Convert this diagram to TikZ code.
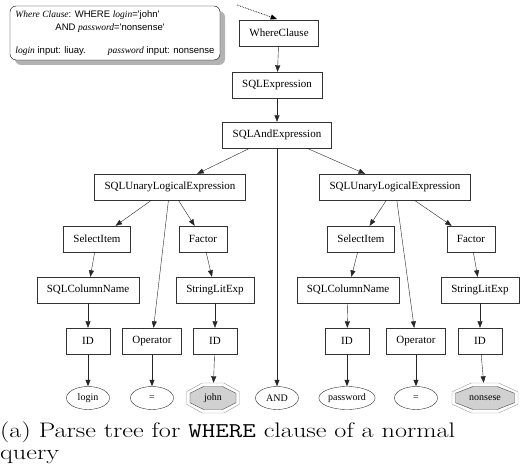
\documentclass[tikz,border=0pt]{standalone}
\usepackage{fontspec}
\usepackage{graphicx}
\usepackage{tikz}
\usetikzlibrary{shapes.geometric,arrows.meta,shadows,calc}
\newfontfamily\gvserif{Liberation Serif}
\newfontfamily\gvsans{Liberation Sans}
\newcommand{\ti}[1]{{\gvserif\itshape #1}}

\begin{document}
\begin{tikzpicture}[x=1pt,y=-1pt,auto]
  \useasboundingbox (0,0) rectangle (522,470);
  % the query note
  \node (note) at (115,33) [draw, rounded corners=6pt, fill=white, minimum width=210pt, minimum height=54pt, inner sep=3pt, align=left, font=\gvsans\fontsize{9.5}{13}\selectfont, drop shadow={shadow xshift=5pt, shadow yshift=-5pt, fill=gray!60, opacity=1}]
    {\ti{Where Clause}: WHERE \ti{login}=\textquotesingle john\textquotesingle\\
     \hspace*{40pt}AND \ti{password}=\textquotesingle nonsense\textquotesingle\\[10pt]
     \ti{login} input: liuay.\hspace{22pt}\ti{password} input: nonsense};
  \coordinate (P) at (237,5);
  \begin{scope}[every node/.style={rectangle,draw=black!80,font=\gvserif\fontsize{11}{13}\selectfont,minimum height=26pt,minimum width=44pt,inner xsep=10pt}]
    \node (W) at (279,33) {WhereClause};
    \node (E) at (277,85) {SQLExpression};
    \node (A) at (277,135) {SQLAndExpression};
    \node (U1) at (170,187) {SQLUnaryLogicalExpression};
    \node (U2) at (395,187) {SQLUnaryLogicalExpression};
    \node (S1) at (97,239) {SelectItem};
    \node (F1) at (203,239) {Factor};
    \node (S2) at (361,239) {SelectItem};
    \node (F2) at (471,239) {Factor};
    \node (C1) at (88,290) {SQLColumnName};
    \node (L1) at (215,290) {StringLitExp};
    \node (C2) at (348,290) {SQLColumnName};
    \node (L2) at (480,290) {StringLitExp};
    \node (I1) at (88,341) {ID};
    \node (O1) at (152,341) {Operator};
    \node (D1) at (215,341) {ID};
    \node (I2) at (347,341) {ID};
    \node (O2) at (416,341) {Operator};
    \node (D2) at (480,341) {ID};
  \end{scope}
  \begin{scope}[every node/.style={ellipse,draw=black!80,font=\gvserif\fontsize{10}{12}\selectfont,minimum width=43pt,minimum height=23pt,inner sep=1pt}]
    \node (login) at (88,398) {login};
    \node (eq1) at (152,398) {=};
    \node (and) at (277,398) {AND};
    \node (pw) at (347,398) {password};
    \node (eq2) at (416,398) {=};
  \end{scope}
  % string values in double octagons
  \coordinate (jc) at (213,398);
  \coordinate (nc) at (485,398);
  \foreach \c/\rx/\ri in {jc/28.7/24.9,nc/35.7/31.9}{
    \draw[black!40] ($(\c)+(22.5:\rx pt and 16.2pt)$) \foreach \a in {67.5,112.5,...,337.5}{ -- ($(\c)+(\a:\rx pt and 16.2pt)$)} -- cycle;
    \draw[black!75,fill=black!18] ($(\c)+(22.5:\ri pt and 12.4pt)$) \foreach \a in {67.5,112.5,...,337.5}{ -- ($(\c)+(\a:\ri pt and 12.4pt)$)} -- cycle;
  }
  \begin{scope}[every node/.style={rectangle,font=\gvserif\fontsize{10}{12}\selectfont,minimum width=53pt,minimum height=30pt}]
    \node (john) at (jc) {john};
    \node (nons) at (nc) {nonsese};
  \end{scope}
  \begin{scope}[every edge/.style={draw=black!85,-{Triangle[length=6.5pt,width=5pt]}}]
    \draw (W) edge (E);
    \draw (E) edge (A);
    \draw (A) edge (U1);
    \draw (A) edge (and);
    \draw (A) edge (U2);
    \draw (U1) edge (S1);
    \draw (U1) edge (O1);
    \draw (U1) edge (F1);
    \draw (S1) edge (C1);
    \draw (C1) edge (I1);
    \draw (I1) edge (login);
    \draw (O1) edge (eq1);
    \draw (F1) edge (L1);
    \draw (L1) edge (D1);
    \draw (D1) edge (john);
    \draw (U2) edge (S2);
    \draw (U2) edge (O2);
    \draw (U2) edge (F2);
    \draw (S2) edge (C2);
    \draw (C2) edge (I2);
    \draw (I2) edge (pw);
    \draw (O2) edge (eq2);
    \draw (F2) edge (L2);
    \draw (L2) edge (D2);
    \draw (D2) edge (nons);
    \draw (P) edge[draw=black,line width=0.7pt,densely dotted,shorten >=2pt] (W.north);
  \end{scope}
  % caption
  \begin{scope}[every node/.style={anchor=base west,inner sep=0pt,font=\fontsize{21}{23}\selectfont}]
    \node (cap1) at (0,437) {\scalebox{1.25}[1]{(a) Parse tree for \texttt{WHERE} clause of a normal}};
    \node (cap2) at (0,459) {\scalebox{1.25}[1]{query}};
  \end{scope}
\end{tikzpicture}
\end{document}
